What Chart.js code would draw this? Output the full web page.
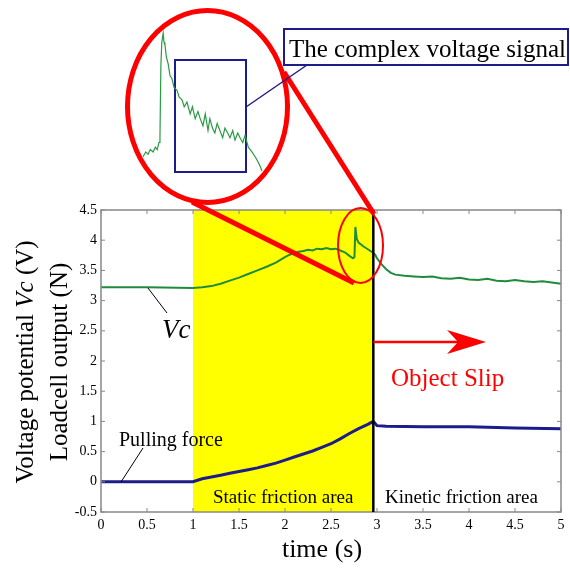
<!DOCTYPE html>
<html>
<head>
<meta charset="utf-8">
<script src="https://cdn.jsdelivr.net/npm/chart.js@4"></script>
<style>
  body { margin: 0; background: #fff; }
  #wrap { position: relative; width: 570px; height: 570px; }
  #main { position: absolute; left: 0; top: 0; }
  #inset { position: absolute; left: 140px; top: 25px; }
</style>
</head>
<body>
<div id="wrap">
  <canvas id="main" width="570" height="570"></canvas>
  <canvas id="inset" width="130" height="155"></canvas>
</div>
<script>
// Voltage potential Vc (V)
const vcTime = [0, 0.5, 1.0, 1.1, 1.2, 1.3, 1.4, 1.5, 1.6, 1.7, 1.8, 1.9, 2.0, 2.05, 2.1, 2.15, 2.2, 2.25, 2.3, 2.35,
    2.4, 2.45, 2.5, 2.55, 2.6, 2.65, 2.7, 2.74, 2.755, 2.765, 2.78, 2.8, 2.85, 2.9, 2.95, 2.98, 3.0, 3.05, 3.1, 3.15,
    3.2, 3.3, 3.4, 3.5, 3.6, 3.7, 3.8, 3.9, 4.0, 4.1, 4.2, 4.3, 4.4, 4.5, 4.6, 4.7, 4.8, 4.9, 5.0];
const vcValue = [3.22, 3.22, 3.21, 3.22, 3.24, 3.28, 3.33, 3.38, 3.44, 3.50, 3.56, 3.63, 3.72, 3.76, 3.79, 3.81, 3.82, 3.84, 3.83, 3.86,
    3.85, 3.87, 3.85, 3.86, 3.83, 3.80, 3.74, 3.70, 3.72, 4.22, 4.02, 3.96, 3.90, 3.85, 3.80, 3.76, 3.70, 3.60, 3.52, 3.46,
    3.43, 3.41, 3.40, 3.39, 3.40, 3.37, 3.36, 3.38, 3.35, 3.34, 3.36, 3.33, 3.32, 3.34, 3.32, 3.31, 3.32, 3.30, 3.28];

// Loadcell output (N), pulling force
const forceTime = [0, 0.5, 1.0, 1.1, 1.2, 1.3, 1.4, 1.5, 1.6, 1.7, 1.8, 1.9, 2.0, 2.1, 2.2, 2.3, 2.4, 2.5, 2.6, 2.7,
    2.8, 2.9, 2.96, 3.0, 3.1, 3.5, 4.0, 4.3, 4.5, 5.0];
const forceValue = [0.0, 0.0, 0.0, 0.05, 0.08, 0.11, 0.14, 0.17, 0.20, 0.23, 0.27, 0.31, 0.36, 0.41, 0.46, 0.51, 0.57, 0.63, 0.71, 0.80,
    0.88, 0.95, 1.0, 0.93, 0.92, 0.91, 0.91, 0.90, 0.89, 0.88];

// zoomed-in detail of the spike (inset)
const insetTime = [2.700, 2.706, 2.711, 2.716, 2.722, 2.727, 2.731, 2.735, 2.737, 2.739, 2.741, 2.744, 2.746, 2.748, 2.751, 2.755,
    2.759, 2.763, 2.768, 2.774, 2.779, 2.785, 2.790, 2.796, 2.803, 2.808, 2.814, 2.820, 2.825, 2.831, 2.836, 2.842, 2.846,
    2.852, 2.857, 2.862, 2.868, 2.874, 2.879, 2.885, 2.890, 2.896, 2.901, 2.907, 2.912, 2.918, 2.923, 2.930, 2.938, 2.945,
    2.951, 2.956, 2.960];
const insetVc = [3.70, 3.72, 3.71, 3.73, 3.72, 3.74, 3.73, 3.76, 3.78, 4.08, 4.18, 4.22, 4.18, 4.17, 4.12, 4.09,
    4.04, 4.03, 3.99, 3.98, 3.95, 3.94, 3.91, 3.93, 3.88, 3.91, 3.86, 3.89, 3.86, 3.83, 3.88, 3.81, 3.86,
    3.82, 3.80, 3.84, 3.81, 3.78, 3.82, 3.80, 3.78, 3.81, 3.77, 3.80, 3.78, 3.76, 3.79, 3.74, 3.72, 3.70,
    3.68, 3.66, 3.64];

const staticStart = 1.0;
const slipTime = 2.96;

const serif = '"Liberation Serif", "Times New Roman", serif';

function toPoints(xs, ys) {
    return xs.map((t, i) => ({ x: t, y: ys[i] }));
}

function line(ctx, x1, y1, x2, y2) {
    ctx.beginPath();
    ctx.moveTo(x1, y1);
    ctx.lineTo(x2, y2);
    ctx.stroke();
}

const deco = {
    id: 'deco',
    beforeDatasetsDraw(chart) {
        const { ctx, chartArea: a, scales: { x } } = chart;
        const x1 = x.getPixelForValue(staticStart);
        const x2 = x.getPixelForValue(slipTime);
        ctx.save();
        ctx.fillStyle = '#ffff00';
        ctx.fillRect(x1, a.top, x2 - x1, a.bottom - a.top);
        ctx.restore();
    },
    afterDatasetsDraw(chart) {
        const { ctx, chartArea: a, scales: { x, y } } = chart;
        ctx.save();

        // frame and inward ticks
        ctx.strokeStyle = '#888';
        ctx.lineWidth = 1.5;
        ctx.strokeRect(a.left, a.top, a.right - a.left, a.bottom - a.top);
        ctx.lineWidth = 1;
        x.ticks.forEach(t => {
            const px = x.getPixelForValue(t.value);
            line(ctx, px, a.bottom, px, a.bottom - 4);
            line(ctx, px, a.top, px, a.top + 4);
        });
        y.ticks.forEach(t => {
            const py = y.getPixelForValue(t.value);
            line(ctx, a.left, py, a.left + 4, py);
            line(ctx, a.right, py, a.right - 4, py);
        });

        // slip line
        const xs = x.getPixelForValue(slipTime);
        ctx.strokeStyle = '#000';
        ctx.lineWidth = 2.5;
        line(ctx, xs, a.top, xs, a.bottom);

        // small ellipse around spike
        ctx.strokeStyle = '#ff0000';
        ctx.lineWidth = 2;
        ctx.beginPath();
        ctx.ellipse(360.5, 245.5, 22.5, 37.5, 0, 0, Math.PI * 2);
        ctx.stroke();

        // connecting lines to the inset
        ctx.lineWidth = 5;
        line(ctx, 284, 72, 374, 214);
        line(ctx, 192, 202, 354, 283);

        // big ellipse
        ctx.beginPath();
        ctx.ellipse(207.5, 106.5, 80, 96, 0, 0, Math.PI * 2);
        ctx.stroke();

        // blue rectangle + callout
        ctx.strokeStyle = '#1c1c8a';
        ctx.lineWidth = 2;
        ctx.strokeRect(175, 60, 71, 112);
        ctx.lineWidth = 1.5;
        line(ctx, 307, 65, 246, 107);
        ctx.fillStyle = '#fff';
        ctx.fillRect(284, 29, 284, 36);
        ctx.lineWidth = 2;
        ctx.strokeRect(284, 29, 284, 36);
        ctx.fillStyle = '#000';
        ctx.font = '25px ' + serif;
        ctx.textAlign = 'left';
        ctx.textBaseline = 'alphabetic';
        ctx.fillText('The complex voltage signal', 289, 57);

        // arrow
        ctx.strokeStyle = '#ff0000';
        ctx.fillStyle = '#ff0000';
        ctx.lineWidth = 2.5;
        line(ctx, xs, 342, 460, 342);
        ctx.beginPath();
        ctx.moveTo(486, 342);
        ctx.lineTo(447, 330);
        ctx.lineTo(458, 342);
        ctx.lineTo(447, 354);
        ctx.closePath();
        ctx.fill();
        ctx.font = '25px ' + serif;
        ctx.fillText('Object Slip', 391, 386);

        // labels with leaders
        ctx.strokeStyle = '#000';
        ctx.fillStyle = '#000';
        ctx.lineWidth = 1;
        line(ctx, 148, 288, 167, 313);
        ctx.font = 'italic 27px ' + serif;
        ctx.fillText('Vc', 162, 338);
        line(ctx, 143, 448, 121, 482);
        ctx.font = '20px ' + serif;
        ctx.fillText('Pulling force', 119, 446);
        ctx.font = '19px ' + serif;
        ctx.fillText('Static friction area', 213, 503);
        ctx.fillText('Kinetic friction area', 385, 503);

        // axis titles
        ctx.font = '26px ' + serif;
        ctx.textAlign = 'center';
        ctx.fillText('time (s)', 322, 557);

        const cy = 362;
        ctx.save();
        ctx.translate(33, cy);
        ctx.rotate(-Math.PI / 2);
        const parts = [['Voltage potential ', ''], ['Vc', 'italic '], [' (V)', '']];
        let total = 0;
        parts.forEach(p => { ctx.font = p[1] + '25px ' + serif; total += ctx.measureText(p[0]).width; });
        let cx = -total / 2;
        ctx.textAlign = 'left';
        parts.forEach(p => {
            ctx.font = p[1] + '25px ' + serif;
            ctx.fillText(p[0], cx, 0);
            cx += ctx.measureText(p[0]).width;
        });
        ctx.restore();
        ctx.save();
        ctx.translate(67, cy);
        ctx.rotate(-Math.PI / 2);
        ctx.font = '25px ' + serif;
        ctx.textAlign = 'center';
        ctx.fillText('Loadcell output (N)', 0, 0);
        ctx.restore();

        ctx.restore();
    }
};

const tickFont = { family: serif, size: 14 };
const fmt = v => String(Number(v.toFixed(2)));

new Chart(document.getElementById('main'), {
    type: 'line',
    data: {
        datasets: [
            {
                data: toPoints(vcTime, vcValue),
                borderColor: '#1f8c3c',
                borderWidth: 2
            },
            {
                data: toPoints(forceTime, forceValue),
                borderColor: '#1c1c8a',
                borderWidth: 3
            }
        ]
    },
    options: {
        responsive: false,
        animation: false,
        devicePixelRatio: 1,
        layout: { padding: { top: 210, right: 9, left: 0, bottom: 0 } },
        elements: { point: { radius: 0 }, line: { tension: 0 } },
        plugins: { legend: { display: false }, tooltip: { enabled: false } },
        scales: {
            x: {
                type: 'linear',
                min: 0,
                max: 5,
                grid: { display: false, drawTicks: false },
                border: { display: false },
                ticks: { stepSize: 0.5, color: '#000', font: tickFont, padding: 5, maxRotation: 0, autoSkip: false, callback: fmt },
                afterFit(s) { s.height = 58; }
            },
            y: {
                min: -0.5,
                max: 4.5,
                grid: { display: false, drawTicks: false },
                border: { display: false },
                ticks: { stepSize: 0.5, color: '#000', font: tickFont, padding: 4, callback: fmt },
                afterFit(s) { s.width = 101; }
            }
        }
    },
    plugins: [deco]
});

new Chart(document.getElementById('inset'), {
    type: 'line',
    data: {
        datasets: [{
            data: toPoints(insetTime, insetVc),
            borderColor: '#2a9a44',
            borderWidth: 1.2
        }]
    },
    options: {
        responsive: false,
        animation: false,
        devicePixelRatio: 1,
        layout: { padding: 0 },
        elements: { point: { radius: 0 }, line: { tension: 0 } },
        plugins: { legend: { display: false }, tooltip: { enabled: false } },
        scales: {
            x: { type: 'linear', display: false, min: 2.6934, max: 2.9775 },
            y: { display: false, min: 3.602, max: 4.254 }
        }
    }
});
</script>
</body>
</html>
